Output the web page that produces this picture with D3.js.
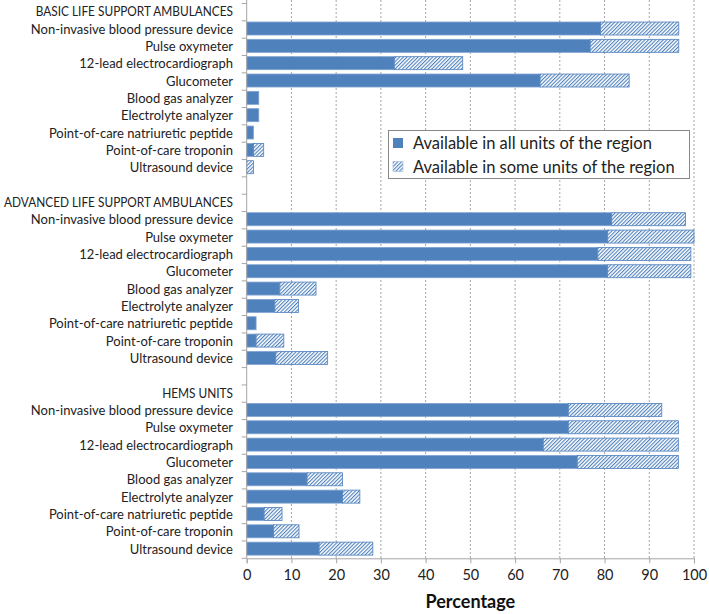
<!DOCTYPE html>
<html><head><meta charset="utf-8">
<script src="https://cdn.jsdelivr.net/npm/d3@7"></script>
<style>
html,body{margin:0;padding:0;background:#fff;}
svg{display:block;font-family:Lato,"Open Sans",sans-serif;}
</style></head>
<body><svg id="c" width="709" height="614"></svg>
<script>
const sections = ["BASIC LIFE SUPPORT AMBULANCES","ADVANCED LIFE SUPPORT AMBULANCES","HEMS UNITS"];
const devices = ["Non-invasive blood pressure device","Pulse oxymeter","12-lead electrocardiograph","Glucometer","Blood gas analyzer","Electrolyte analyzer","Point-of-care natriuretic peptide","Point-of-care troponin","Ultrasound device"];
const seriesNames = ["Available in all units of the region","Available in some units of the region"];
// "all units" values per section (percent)
const allBasic = [79.1,76.8,33.0,65.6,2.7,2.7,1.5,1.5,0];
const allAdvanced = [81.6,80.7,78.5,80.7,7.4,6.3,2.1,2.1,6.5];
const allHems = [71.9,71.9,66.3,73.9,13.5,21.4,3.9,6.0,16.2];
// "some units" values (extra, stacked on top)
const someBasic = [17.5,19.8,15.3,19.9,0,0,0,2.3,1.5];
const someAdvanced = [16.5,19.3,20.8,18.6,8.1,5.3,0,6.2,11.6];
const someHems = [20.9,24.6,30.2,22.6,7.9,3.9,4.0,5.7,12.0];
const xTicks = [0,10,20,30,40,50,60,70,80,90,100];
const xTitle = "Percentage";

const allVals = [allBasic, allAdvanced, allHems];
const someVals = [someBasic, someAdvanced, someHems];

// build rows
const rows = [];
const bars = [];
sections.forEach((s, si) => {
  if (si > 0) rows.push({id: "blank" + si, label: "", header: false});
  rows.push({id: "h" + si, label: s, header: true});
  devices.forEach((d, di) => {
    const id = "s" + si + "d" + di;
    rows.push({id, label: d, header: false});
    bars.push({id, all: allVals[si][di], some: someVals[si][di]});
  });
});

const svg = d3.select("#c");
const M = {left: 246.7, right: 694, top: 3.5, bottom: 558.3};
const x = d3.scaleLinear().domain([0, 100]).range([M.left, M.right]);
const y = d3.scaleBand().domain(rows.map(r => r.id)).range([M.top, M.bottom]).paddingInner(0.25).paddingOuter(0.125);
const blue = "#4F81BD";

// pattern
const defs = svg.append("defs");
const pat = defs.append("pattern").attr("id", "hatch").attr("patternUnits", "userSpaceOnUse")
  .attr("width", 2.6).attr("height", 2.6).attr("patternTransform", "rotate(45)");
pat.append("rect").attr("width", 2.6).attr("height", 2.6).attr("fill", "#ffffff");
pat.append("rect").attr("x", 0).attr("y", 0).attr("width", 1.1).attr("height", 2.6).attr("fill", blue);

// gridlines
svg.append("g").selectAll("line").data(xTicks.filter(t => t > 0)).join("line")
  .attr("x1", d => x(d)).attr("x2", d => x(d)).attr("y1", 0).attr("y2", M.bottom)
  .attr("stroke", "#A6A6A6").attr("stroke-width", 1).attr("stroke-dasharray", "2,2");

// bars
const bg = svg.append("g");
const bh = y.bandwidth();
bars.forEach(b => {
  const yy = y(b.id) - 1;
  if (b.all > 0) bg.append("rect").attr("x", x(0)).attr("y", yy).attr("width", x(b.all) - x(0)).attr("height", bh)
    .attr("fill", blue).attr("stroke", "#7FA3D1").attr("stroke-width", 0.8);
  if (b.some > 0) bg.append("rect").attr("x", x(b.all)).attr("y", yy).attr("width", x(b.all + b.some) - x(b.all)).attr("height", bh)
    .attr("fill", "url(#hatch)").attr("stroke", blue).attr("stroke-width", 0.8);
});

// y axis line and ticks at boundaries
const step = y.step();
const ya = svg.append("g").attr("stroke", "#A6A6A6").attr("stroke-width", 1);
ya.append("line").attr("x1", x(0)).attr("x2", x(0)).attr("y1", 0).attr("y2", M.bottom);
rows.forEach((r, i) => {
  const yy = M.top + i * step;
  ya.append("line").attr("x1", x(0) - 5).attr("x2", x(0)).attr("y1", yy).attr("y2", yy);
});
ya.append("line").attr("x1", x(0) - 5).attr("x2", x(0)).attr("y1", M.bottom).attr("y2", M.bottom);

// y labels
const labels = svg.append("g").selectAll("text").data(rows).join("text")
  .attr("x", 233).attr("y", d => y(d.id) + bh / 2 - 1)
  .attr("text-anchor", "end").attr("dominant-baseline", "central")
  .attr("font-size", 13).attr("fill", "#222").text(d => d.label);
// condense section headers horizontally so the widest one spans about 229px
let maxW = 0;
labels.filter(d => d.header).each(function() { maxW = Math.max(maxW, this.getComputedTextLength()); });
const k = Math.min(1, 229 / maxW);
labels.filter(d => d.header).each(function() {
  const w = this.getComputedTextLength();
  d3.select(this).attr("textLength", w * k).attr("lengthAdjust", "spacingAndGlyphs");
});

// x axis
const xa = svg.append("g").attr("transform", `translate(0,${M.bottom})`)
  .call(d3.axisBottom(x).tickValues(xTicks).tickSize(5).tickPadding(6));
xa.select(".domain").attr("stroke", "#A6A6A6");
xa.selectAll(".tick line").attr("stroke", "#A6A6A6");
xa.selectAll(".tick text").attr("font-size", 14.5).attr("fill", "#222").attr("font-family", "Lato,sans-serif");

svg.append("text").attr("x", (x(0) + x(100)) / 2).attr("y", 608).attr("text-anchor", "middle")
  .attr("font-size", 18).attr("font-weight", "bold").attr("fill", "#111").text(xTitle);

// legend
const lg = svg.append("g");
lg.append("rect").attr("x", 388.5).attr("y", 130.5).attr("width", 301).attr("height", 48)
  .attr("fill", "#fff").attr("stroke", "#888").attr("stroke-width", 1);
seriesNames.forEach((n, i) => {
  const cy = 143 + i * 23.5;
  lg.append("rect").attr("x", 393).attr("y", cy - 5).attr("width", 10).attr("height", 10)
    .attr("fill", i === 0 ? blue : "url(#hatch)").attr("stroke", i === 0 ? "none" : "#9DB7DB").attr("stroke-width", 0.6);
  lg.append("text").attr("x", 413).attr("y", cy).attr("dominant-baseline", "central")
    .attr("font-size", 16.5).attr("fill", "#222").text(n);
});
</script></body></html>
